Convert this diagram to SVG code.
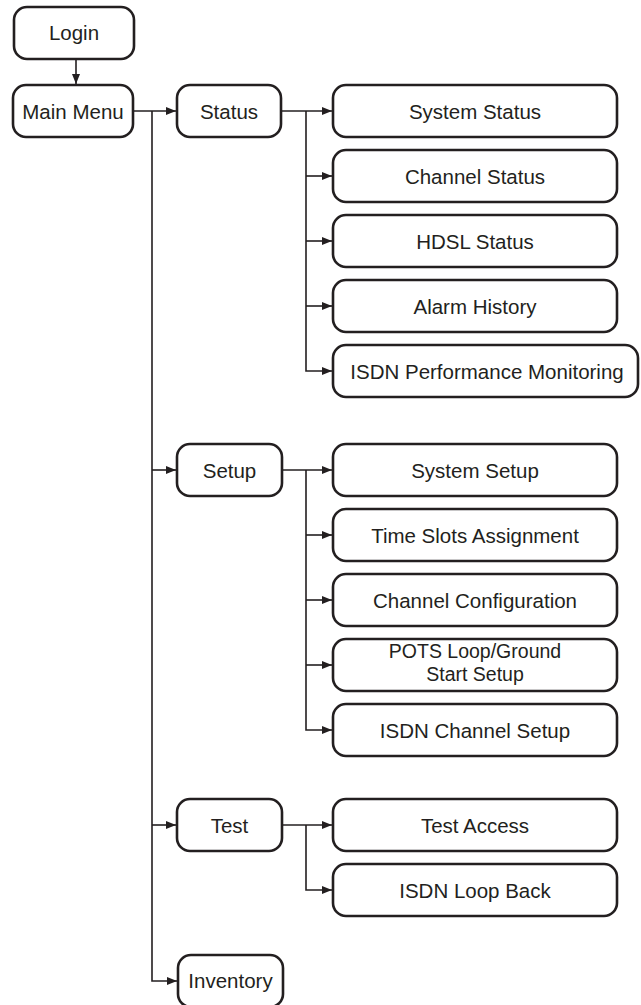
<svg xmlns="http://www.w3.org/2000/svg" width="641" height="1005" viewBox="0 0 641 1005">
<style>
.box{fill:#fff;stroke:#231f20;stroke-width:2.6}
.t{font-family:"Liberation Sans",Arial,sans-serif;font-size:20.5px;fill:#231f20;text-anchor:middle}
.s{font-size:19.5px}
.c{fill:none;stroke:#231f20;stroke-width:1.6}
</style>
<defs>
<marker id="ah" markerUnits="userSpaceOnUse" markerWidth="10" markerHeight="9" refX="10" refY="4.5" orient="auto">
<path d="M0,0.5 L10,4.5 L0,8.5 z" fill="#231f20"/>
</marker>
</defs>
<rect width="641" height="1005" fill="#fff"/>
<g id="connectors">
<path class="c" d="M76,59 V84" marker-end="url(#ah)"/>
<path class="c" d="M133,111 H176" marker-end="url(#ah)"/>
<path class="c" d="M152,111 V981 H177" marker-end="url(#ah)"/>
<path class="c" d="M152,470 H176" marker-end="url(#ah)"/>
<path class="c" d="M152,825 H176" marker-end="url(#ah)"/>
<path class="c" d="M281,111 H332" marker-end="url(#ah)"/>
<path class="c" d="M306,111 V371 H332" marker-end="url(#ah)"/>
<path class="c" d="M306,176 H332" marker-end="url(#ah)"/>
<path class="c" d="M306,241 H332" marker-end="url(#ah)"/>
<path class="c" d="M306,306 H332" marker-end="url(#ah)"/>
<path class="c" d="M282,470 H332" marker-end="url(#ah)"/>
<path class="c" d="M306,470 V730 H332" marker-end="url(#ah)"/>
<path class="c" d="M306,535 H332" marker-end="url(#ah)"/>
<path class="c" d="M306,600 H332" marker-end="url(#ah)"/>
<path class="c" d="M306,665 H332" marker-end="url(#ah)"/>
<path class="c" d="M282,825 H332" marker-end="url(#ah)"/>
<path class="c" d="M306,825 V890 H332" marker-end="url(#ah)"/>
</g>
<g id="login"><rect class="box" x="14" y="7" width="120" height="52" rx="13"/><text class="t" x="74" y="40">Login</text></g>
<g id="main-menu"><rect class="box" x="13" y="85" width="120" height="52" rx="13"/><text class="t" x="73" y="118.5">Main Menu</text></g>
<g id="status"><rect class="box" x="177" y="85" width="104" height="52" rx="13"/><text class="t" x="229" y="118.5">Status</text></g>
<g id="system-status"><rect class="box" x="333" y="85" width="284" height="52" rx="13"/><text class="t" x="475" y="118.5">System Status</text></g>
<g id="channel-status"><rect class="box" x="333" y="150" width="284" height="52" rx="13"/><text class="t" x="475" y="183.5">Channel Status</text></g>
<g id="hdsl-status"><rect class="box" x="333" y="215" width="284" height="52" rx="13"/><text class="t" x="475" y="248.5">HDSL Status</text></g>
<g id="alarm-history"><rect class="box" x="333" y="280" width="284" height="52" rx="13"/><text class="t" x="475" y="313.5">Alarm History</text></g>
<g id="isdn-pm"><rect class="box" x="333" y="345" width="305" height="52" rx="13"/><text class="t" x="487" y="378.5">ISDN Performance Monitoring</text></g>
<g id="setup"><rect class="box" x="177" y="444" width="105" height="52" rx="13"/><text class="t" x="229.5" y="477.5">Setup</text></g>
<g id="system-setup"><rect class="box" x="333" y="444" width="284" height="52" rx="13"/><text class="t" x="475" y="477.5">System Setup</text></g>
<g id="time-slots"><rect class="box" x="333" y="509" width="284" height="52" rx="13"/><text class="t" x="475" y="542.5">Time Slots Assignment</text></g>
<g id="channel-config"><rect class="box" x="333" y="574" width="284" height="52" rx="13"/><text class="t" x="475" y="607.5">Channel Configuration</text></g>
<g id="pots"><rect class="box" x="333" y="639" width="284" height="52" rx="13"/><text class="t s" x="475" y="658">POTS Loop/Ground</text><text class="t s" x="475" y="680.5">Start Setup</text></g>
<g id="isdn-channel-setup"><rect class="box" x="333" y="704" width="284" height="52" rx="13"/><text class="t" x="475" y="737.5">ISDN Channel Setup</text></g>
<g id="test"><rect class="box" x="177" y="799" width="105" height="52" rx="13"/><text class="t" x="229.5" y="832.5">Test</text></g>
<g id="test-access"><rect class="box" x="333" y="799" width="284" height="52" rx="13"/><text class="t" x="475" y="832.5">Test Access</text></g>
<g id="isdn-loop-back"><rect class="box" x="333" y="864" width="284" height="52" rx="13"/><text class="t" x="475" y="897.5">ISDN Loop Back</text></g>
<g id="inventory"><rect class="box" x="178" y="955" width="105" height="52" rx="13"/><text class="t" x="230.5" y="988">Inventory</text></g>
</svg>
